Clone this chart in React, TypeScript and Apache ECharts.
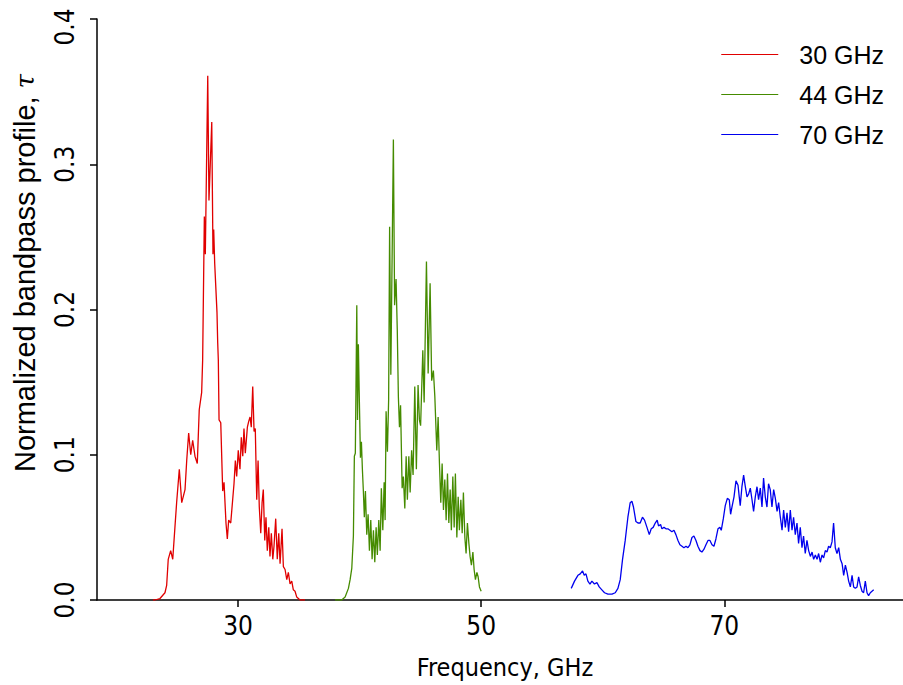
import React, { useEffect, useRef } from "react";
import * as echarts from "echarts";

const seriesNames = ["30 GHz", "44 GHz", "70 GHz"];
const xTicks = [30, 50, 70];
const yTicks = [0, 0.1, 0.2, 0.3, 0.4];

const band30: [number, number][] = [
  [23.0, 0], [23.17, 0], [23.58, 0.001], [23.99, 0.005], [24.13, 0.01], [24.26, 0.028],
  [24.46, 0.034], [24.63, 0.028], [24.81, 0.05], [24.95, 0.067], [25.17, 0.09], [25.37, 0.067],
  [25.64, 0.076], [25.78, 0.096], [25.94, 0.115], [26.11, 0.1], [26.27, 0.11], [26.46, 0.099],
  [26.65, 0.094], [26.81, 0.131], [27.01, 0.143], [27.09, 0.165], [27.23, 0.264], [27.31, 0.238],
  [27.51, 0.361], [27.61, 0.275], [27.84, 0.329], [27.94, 0.238], [28.0, 0.255], [28.08, 0.232],
  [28.27, 0.198], [28.33, 0.177], [28.38, 0.165], [28.44, 0.124], [28.58, 0.122], [28.74, 0.075],
  [28.85, 0.081], [29.01, 0.053], [29.12, 0.042], [29.23, 0.055], [29.4, 0.053], [29.56, 0.069],
  [29.67, 0.08], [29.78, 0.096], [29.89, 0.085], [30.02, 0.103], [30.16, 0.09], [30.27, 0.112],
  [30.39, 0.099], [30.49, 0.118], [30.6, 0.101], [30.77, 0.119], [30.88, 0.123], [30.99, 0.126],
  [31.09, 0.119], [31.21, 0.147], [31.32, 0.116], [31.42, 0.118], [31.54, 0.069], [31.65, 0.096],
  [31.75, 0.064], [31.87, 0.046], [31.98, 0.067], [32.08, 0.076], [32.2, 0.041], [32.3, 0.057],
  [32.41, 0.034], [32.53, 0.05], [32.63, 0.03], [32.74, 0.046], [32.86, 0.028], [32.96, 0.037],
  [33.1, 0.056], [33.23, 0.028], [33.35, 0.046], [33.46, 0.025], [33.62, 0.049], [33.73, 0.023],
  [33.87, 0.021], [34.01, 0.014], [34.14, 0.019], [34.28, 0.011], [34.42, 0.013], [34.55, 0.007],
  [34.69, 0.006], [34.83, 0.002], [35.1, 0], [35.51, 0],
];

const band44: [number, number][] = [
  [37.98, 0], [38.53, 0.0], [38.81, 0.002], [39.08, 0.008], [39.22, 0.014], [39.36, 0.022],
  [39.49, 0.044], [39.57, 0.099], [39.65, 0.101], [39.77, 0.203], [39.83, 0.124], [39.9, 0.176],
  [39.98, 0.138], [40.07, 0.098], [40.15, 0.109], [40.23, 0.09], [40.31, 0.075], [40.39, 0.057],
  [40.48, 0.075], [40.59, 0.045], [40.7, 0.059], [40.81, 0.034], [40.92, 0.055], [41.03, 0.028],
  [41.14, 0.048], [41.25, 0.026], [41.36, 0.05], [41.46, 0.031], [41.58, 0.055], [41.69, 0.034],
  [41.79, 0.077], [41.91, 0.048], [42.02, 0.081], [42.1, 0.055], [42.18, 0.13], [42.29, 0.102],
  [42.39, 0.138], [42.47, 0.257], [42.57, 0.155], [42.78, 0.317], [42.88, 0.203], [43.0, 0.221],
  [43.1, 0.186], [43.19, 0.14], [43.28, 0.119], [43.37, 0.134], [43.5, 0.077], [43.6, 0.085],
  [43.72, 0.063], [43.83, 0.099], [43.93, 0.069], [44.05, 0.099], [44.16, 0.074], [44.28, 0.103],
  [44.4, 0.086], [44.54, 0.147], [44.67, 0.09], [44.81, 0.148], [44.92, 0.124], [45.02, 0.12],
  [45.2, 0.172], [45.31, 0.136], [45.5, 0.233], [45.64, 0.156], [45.8, 0.218], [45.93, 0.151],
  [46.07, 0.158], [46.19, 0.14], [46.35, 0.103], [46.46, 0.126], [46.57, 0.094], [46.68, 0.067],
  [46.79, 0.094], [46.9, 0.062], [47.01, 0.083], [47.12, 0.055], [47.23, 0.087], [47.34, 0.053],
  [47.45, 0.076], [47.55, 0.048], [47.67, 0.085], [47.78, 0.05], [47.88, 0.087], [48.0, 0.043],
  [48.11, 0.071], [48.21, 0.048], [48.33, 0.069], [48.44, 0.046], [48.54, 0.074], [48.66, 0.043],
  [48.76, 0.032], [48.87, 0.053], [48.99, 0.039], [49.09, 0.03], [49.2, 0.024], [49.32, 0.033],
  [49.42, 0.021], [49.53, 0.014], [49.65, 0.019], [49.75, 0.016], [49.86, 0.009], [50.0, 0.006],
];

const band70: [number, number][] = [
  [57.41, 0.008], [57.68, 0.013], [57.96, 0.017], [58.15, 0.018], [58.34, 0.02], [58.48, 0.017],
  [58.62, 0.018], [58.78, 0.013], [58.95, 0.011], [59.11, 0.013], [59.32, 0.011], [59.52, 0.012],
  [59.71, 0.009], [59.93, 0.007], [60.15, 0.005], [60.43, 0.004], [60.76, 0.004], [61.03, 0.005],
  [61.25, 0.008], [61.44, 0.014], [61.63, 0.028], [61.85, 0.041], [62.07, 0.057], [62.26, 0.067],
  [62.4, 0.068], [62.53, 0.064], [62.73, 0.054], [62.9, 0.053], [63.08, 0.053], [63.27, 0.057],
  [63.44, 0.055], [63.64, 0.05], [63.83, 0.045], [63.99, 0.049], [64.15, 0.05], [64.32, 0.053],
  [64.48, 0.055], [64.59, 0.051], [64.76, 0.052], [64.87, 0.049], [65.04, 0.05], [65.2, 0.049],
  [65.36, 0.049], [65.53, 0.048], [65.69, 0.047], [65.86, 0.048], [66.02, 0.045], [66.19, 0.041],
  [66.35, 0.038], [66.52, 0.037], [66.68, 0.036], [66.85, 0.037], [67.01, 0.036], [67.17, 0.038],
  [67.34, 0.043], [67.5, 0.044], [67.67, 0.041], [67.83, 0.037], [68.0, 0.034], [68.16, 0.033],
  [68.33, 0.035], [68.49, 0.038], [68.66, 0.041], [68.82, 0.041], [68.99, 0.038], [69.15, 0.037],
  [69.31, 0.042], [69.48, 0.049], [69.64, 0.05], [69.75, 0.048], [69.92, 0.056], [70.08, 0.065],
  [70.25, 0.07], [70.41, 0.069], [70.52, 0.059], [70.63, 0.064], [70.8, 0.071], [70.96, 0.082],
  [71.13, 0.079], [71.23, 0.071], [71.31, 0.065], [71.45, 0.078], [71.59, 0.086], [71.73, 0.078],
  [71.87, 0.071], [72.0, 0.073], [72.14, 0.077], [72.28, 0.069], [72.41, 0.061], [72.55, 0.071],
  [72.69, 0.078], [72.82, 0.069], [72.96, 0.077], [73.1, 0.064], [73.23, 0.084], [73.37, 0.071],
  [73.51, 0.064], [73.64, 0.08], [73.78, 0.076], [73.92, 0.064], [74.06, 0.076], [74.2, 0.07],
  [74.34, 0.061], [74.47, 0.067], [74.61, 0.057], [74.75, 0.048], [74.88, 0.062], [75.02, 0.05],
  [75.16, 0.06], [75.29, 0.047], [75.43, 0.062], [75.57, 0.048], [75.7, 0.057], [75.84, 0.045],
  [75.98, 0.053], [76.11, 0.039], [76.25, 0.05], [76.39, 0.036], [76.52, 0.044], [76.66, 0.032],
  [76.8, 0.041], [76.94, 0.034], [77.08, 0.03], [77.22, 0.033], [77.35, 0.028], [77.49, 0.031],
  [77.63, 0.028], [77.76, 0.032], [77.9, 0.026], [78.04, 0.031], [78.17, 0.029], [78.31, 0.034],
  [78.45, 0.033], [78.58, 0.037], [78.72, 0.036], [78.86, 0.04], [78.99, 0.053], [79.13, 0.036],
  [79.27, 0.032], [79.41, 0.036], [79.55, 0.028], [79.69, 0.025], [79.82, 0.017], [79.96, 0.024],
  [80.1, 0.019], [80.23, 0.013], [80.37, 0.009], [80.51, 0.017], [80.64, 0.009], [80.78, 0.008],
  [80.92, 0.009], [81.05, 0.016], [81.19, 0.01], [81.33, 0.006], [81.46, 0.005], [81.6, 0.013],
  [81.74, 0.005], [81.87, 0.003], [82.01, 0.005], [82.15, 0.006], [82.29, 0.007],
];

const colors = ["#e00000", "#458b00", "#0000ee"];
const FONT = "Liberation Sans";
const NARROW = "'Liberation Sans Narrow', 'DejaVu Sans Condensed', 'Liberation Sans'";

export default function App() {
  const ref = useRef<HTMLDivElement>(null);
  useEffect(() => {
    if (!ref.current) return;
    const chart = echarts.init(ref.current, undefined, { renderer: "svg" });
    const datasets = [band30, band44, band70];
    chart.setOption({
      animation: false,
      backgroundColor: "#ffffff",
      grid: { left: 97, right: 0, top: 19, bottom: 85, containLabel: false },
      xAxis: {
        type: "value",
        min: 18.4,
        max: 84.7,
        splitLine: { show: false },
        axisLine: { show: true, onZero: false, lineStyle: { color: "#000", width: 1.5 } },
        axisTick: { show: true, length: 7, customValues: xTicks, lineStyle: { color: "#000", width: 1.5 } },
        axisLabel: {
          customValues: xTicks,
          color: "#000",
          fontFamily: NARROW,
          fontSize: 26,
          margin: 13,
        },
      },
      yAxis: {
        type: "value",
        min: 0,
        max: 0.4,
        interval: 0.1,
        splitLine: { show: false },
        axisLine: { show: true, lineStyle: { color: "#000", width: 1.5 } },
        axisTick: { show: true, length: 7, lineStyle: { color: "#000", width: 1.5 } },
        axisLabel: {
          rotate: 90,
          color: "#000",
          fontFamily: NARROW,
          fontSize: 26,
          margin: 19,
          formatter: (v: number) => (v >= 0.4 ? "{top|" + v.toFixed(1) + "}" : v.toFixed(1)),
          rich: { top: { fontFamily: NARROW, fontSize: 26, color: "#000", padding: [0, 16, 0, 0] } },
          customValues: yTicks,
        },
      },
      legend: {
        orient: "vertical",
        right: 19,
        top: 42,
        padding: 0,
        itemWidth: 57,
        itemHeight: 14,
        itemGap: 15,
        icon: "path://M0,0 L57,0 L57,1 L0,1 Z",
        textStyle: { fontFamily: FONT, fontSize: 25, color: "#000", padding: [0, 0, 0, 16], lineHeight: 25 },
        data: seriesNames,
      },
      graphic: [
        {
          type: "text",
          x: 505,
          y: 667,
          style: {
            text: "Frequency, GHz",
            fontFamily: NARROW,
            fontSize: 25,
            fill: "#000",
            align: "center",
            verticalAlign: "middle",
          },
        },
        {
          type: "text",
          x: 25,
          y: 273,
          rotation: Math.PI / 2,
          style: {
            text: "Normalized bandpass profile, {t|τ}",
            fontFamily: FONT,
            fontSize: 29,
            fill: "#000",
            align: "center",
            verticalAlign: "middle",
            rich: {
              t: { fontFamily: "DejaVu Serif", fontStyle: "italic", fontSize: 26, fill: "#000" },
            },
          },
        },
      ],
      series: datasets.map((d, i) => ({
        name: seriesNames[i],
        type: "line",
        data: d,
        symbol: "none",
        showSymbol: false,
        color: colors[i],
        lineStyle: { color: colors[i], width: 1.3 },
      })),
    });
    return () => chart.dispose();
  }, []);
  return (
    <div
      ref={ref}
      style={{ position: "absolute", left: 0, top: 0, width: 903, height: 685 }}
    />
  );
}
